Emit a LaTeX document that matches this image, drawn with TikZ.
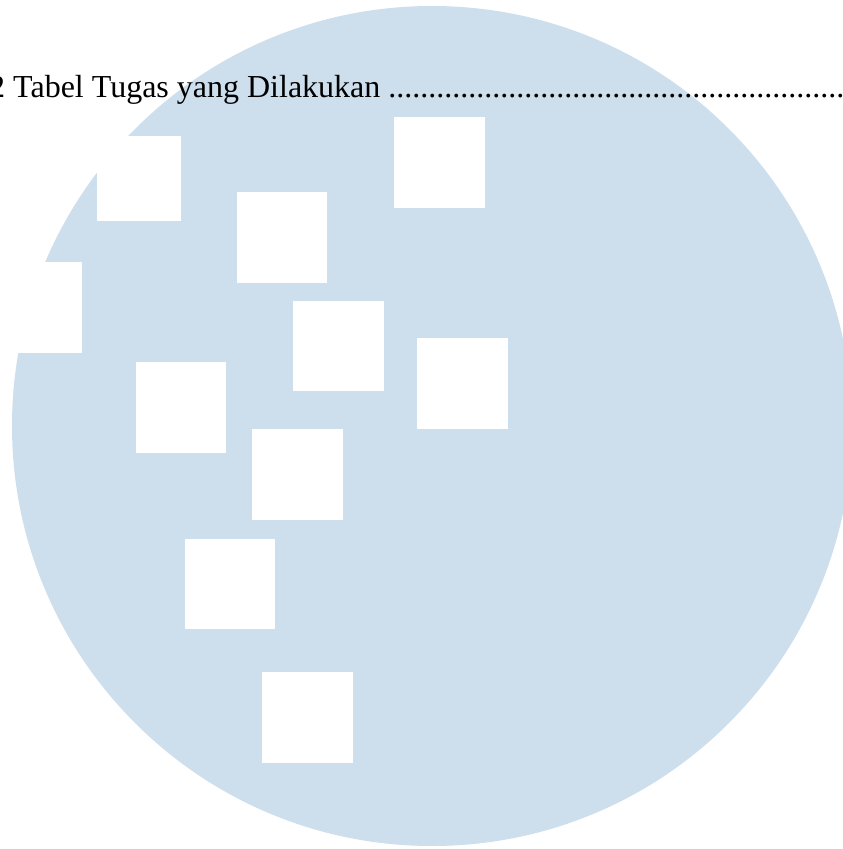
\documentclass[tikz,border=0pt]{standalone}
\usepackage{fontspec}
\setmainfont{Liberation Serif}
\definecolor{wmblue}{RGB}{205,222,237}
\tikzset{
  hole/.style={fill=white, draw=none},
  disc/.style={fill=wmblue, draw=none},
  caption/.style={anchor=base west, inner sep=0pt, font=\fontsize{32bp}{38bp}\selectfont}
}
\begin{document}
\begin{tikzpicture}[x=1bp,y=-1bp]
\useasboundingbox (0,0) rectangle (843,849);
\clip (0,0) rectangle (843,849);
\fill[white] (0,0) rectangle (843,849);
\fill[disc] (432,426) circle[radius=420];
\fill[hole] (97,136) rectangle (181,221);
\fill[hole] (394,117) rectangle (485,208);
\fill[hole] (237,192) rectangle (327,283);
\fill[hole] (-10,262) rectangle (82,353);
\fill[hole] (293,301) rectangle (384,391);
\fill[hole] (417,338) rectangle (508,429);
\fill[hole] (136,362) rectangle (226,453);
\fill[hole] (252,429) rectangle (343,520);
\fill[hole] (185,539) rectangle (275,629);
\fill[hole] (262,672) rectangle (353,763);
\node[caption] (title) at (-11,97) {2 Tabel Tugas yang Dilakukan ...................................................................};
\end{tikzpicture}
\end{document}
